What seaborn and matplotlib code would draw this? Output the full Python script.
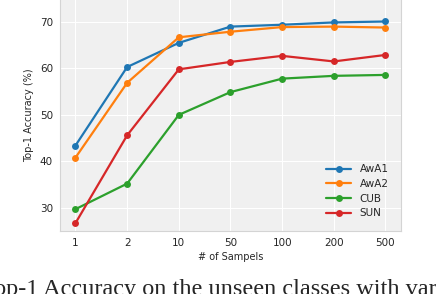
import numpy as np
import pandas as pd
import matplotlib
matplotlib.use("Agg")
import matplotlib.pyplot as plt
import seaborn as sns

# Datos
muestras = ["1", "2", "10", "50", "100", "200", "500"]
awa1 = [43.4, 60.3, 65.5, 69.0, 69.4, 69.9, 70.1]
awa2 = [40.8, 56.9, 66.7, 67.9, 68.9, 69.0, 68.8]
cub = [29.7, 35.2, 50.0, 54.9, 57.8, 58.4, 58.6]
sun = [26.7, 45.6, 59.8, 61.4, 62.7, 61.5, 62.9]
series = {"AwA1": awa1, "AwA2": awa2, "CUB": cub, "SUN": sun}

df = pd.DataFrame(
    [(m, v, nombre) for nombre, vals in series.items() for m, v in zip(muestras, vals)],
    columns=["muestras", "acc", "dataset"],
)

sns.set_style("darkgrid", {"axes.facecolor": "#f0f0f0", "grid.color": "white",
                           "axes.edgecolor": "#d4d4d4"})
plt.rcParams["font.family"] = ["DejaVu Sans"]

fig = plt.figure(figsize=(4.36, 2.94), dpi=100)
ax = fig.add_axes([0.1376, 0.2143, 0.782, 0.79])

sns.lineplot(data=df, x="muestras", y="acc", hue="dataset", palette="tab10",
             marker="o", markersize=5, markeredgewidth=0, linewidth=1.6, ax=ax)

ax.set_ylim(25, 75)
ax.set_yticks([30, 40, 50, 60, 70])
ax.set_xlim(-0.3, 6.3)
ax.tick_params(labelsize=7.5, length=0, pad=5)
ax.set_xlabel("# of Sampels", fontsize=7, labelpad=3)
ax.set_ylabel("Top-1 Accuracy (%)", fontsize=7, labelpad=4)
for s in ax.spines.values():
    s.set_linewidth(0.8)

ax.legend(title=None, loc="lower right", frameon=False, fontsize=7.5,
          handlelength=2.4, labelspacing=0.45, borderaxespad=0.8)

# Pie de figura (recortado por el borde)
fig.text(-0.0425, -0.005, "Top-1 Accuracy on the unseen classes with various numbers of samples.",
         family="Liberation Serif", fontsize=17.5, ha="left", va="baseline")

fig.savefig("out.png", dpi=100)
